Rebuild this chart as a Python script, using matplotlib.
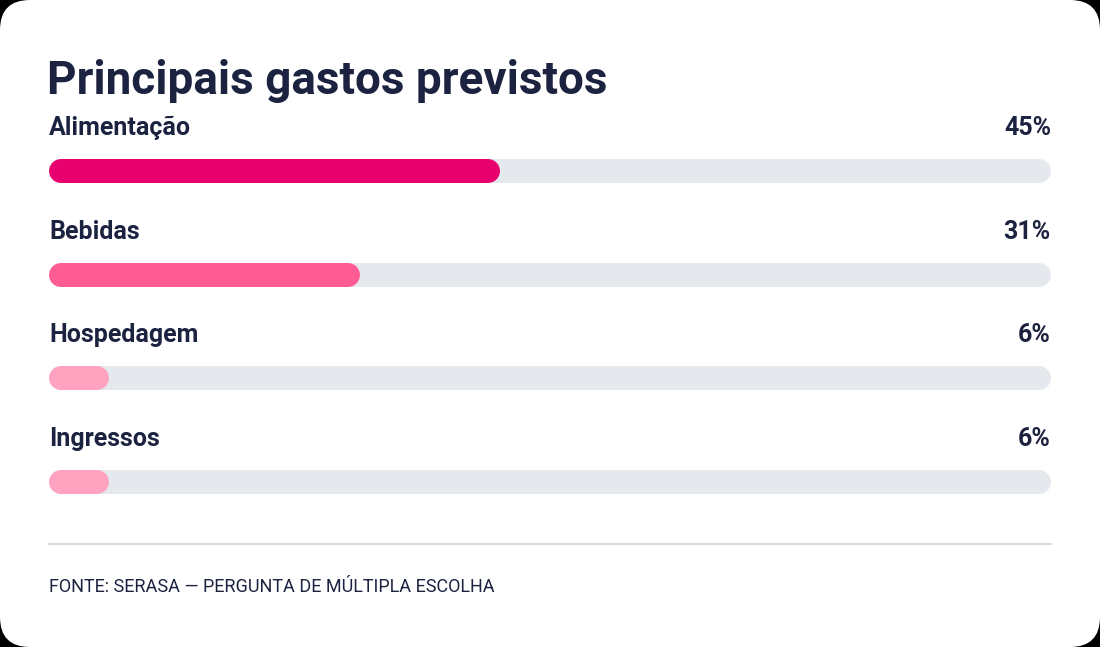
import matplotlib
matplotlib.use('Agg')
import matplotlib.pyplot as plt
from matplotlib.patches import FancyBboxPatch

plt.rcParams['font.family'] = ['Roboto', 'DejaVu Sans']

# dados
categorias = ['Alimentação', 'Bebidas', 'Hospedagem', 'Ingressos']
valores = [45, 31, 6, 6]
cores = ['#e8006e', '#ff5c93', '#ffa3c0', '#ffa3c0']
titulo = 'Principais gastos previstos'
fonte = 'FONTE: SERASA — PERGUNTA DE MÚLTIPLA ESCOLHA'

navy = '#1c2340'
trilho = '#e5e8ed'

W, H = 1100, 647
fig = plt.figure(figsize=(W / 100, H / 100), dpi=100)
fig.patch.set_facecolor('black')

# fundo (cartao branco arredondado), em pixels
bg = fig.add_axes([0, 0, 1, 1])
bg.set_xlim(0, W)
bg.set_ylim(H, 0)
bg.axis('off')
bg.add_patch(FancyBboxPatch((0, 0), W, H, boxstyle='round,pad=0,rounding_size=30',
                            fc='white', ec='none'))
bg.text(47, 94, titulo, fontsize=33, fontweight='bold', color=navy, va='baseline', ha='left')
bg.plot([49, 1051], [544, 544], color='#dcdde2', lw=1.5)
bg.text(49, 592, fonte, fontsize=13, color=navy, va='baseline', ha='left')

# barras
x0, x1 = 49, 1051
top, bot = 119, 534
ax = fig.add_axes([x0 / W, 1 - bot / H, (x1 - x0) / W, (bot - top) / H])
ax.set_xlim(0, 100)
ax.set_ylim(len(categorias) - 0.5, -0.5)
ax.axis('off')

lw_px = 24
lw_pt = lw_px * 72 / 100
r = (lw_px / 2) / ((x1 - x0) / 100)  # raio em unidades de x

for i, (cat, v, c) in enumerate(zip(categorias, valores, cores)):
    ax.plot([r, 100 - r], [i, i], color=trilho, lw=lw_pt, solid_capstyle='round')
    ax.plot([r, v - r], [i, i], color=c, lw=lw_pt, solid_capstyle='round')
    ax.text(0, i - 0.347, cat, fontsize=18, fontweight='semibold', color=navy,
            va='baseline', ha='left')
    ax.text(100, i - 0.347, f'{v}%', fontsize=18, fontweight='semibold', color=navy,
            va='baseline', ha='right')

fig.savefig('out.png', dpi=100, facecolor=fig.get_facecolor())
